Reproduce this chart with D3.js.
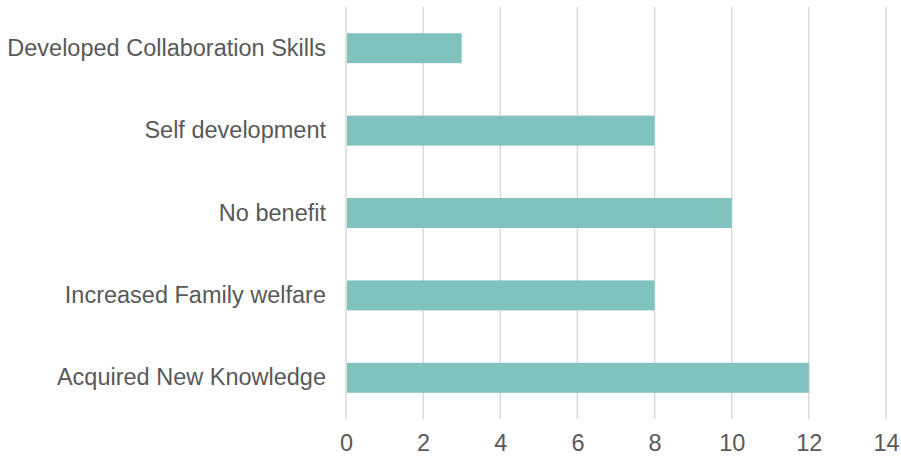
<!DOCTYPE html>
<html>
<head>
<meta charset="utf-8">
<script src="https://cdn.jsdelivr.net/npm/d3@7"></script>
<style>
  body { margin: 0; background: #fff; }
  text { font-family: "Liberation Sans", Arial, sans-serif; fill: #595959; }
</style>
</head>
<body>
<svg id="chart" width="901" height="462" viewBox="0 0 901 462"></svg>
<script>
// benefits reported
const categories = ["Developed Collaboration Skills", "Self development", "No benefit", "Increased Family welfare", "Acquired New Knowledge"]
const counts = [3, 8, 10, 8, 12]
const xTicks = [0, 2, 4, 6, 8, 10, 12, 14]

const svg = d3.select("#chart")
const margin = {top: 7, right: 15, bottom: 43, left: 346}
const width = 901
const height = 462

const x = d3.scaleLinear()
    .domain([0, 14])
    .range([margin.left, width - margin.right])

const y = d3.scaleBand()
    .domain(categories)
    .range([margin.top, height - margin.bottom])
    .paddingInner(0.636)
    .paddingOuter(0.318)

// vertical gridlines
svg.append("g")
    .selectAll("line")
    .data(xTicks)
    .enter()
    .append("line")
    .attr("x1", d => x(d))
    .attr("x2", d => x(d))
    .attr("y1", margin.top)
    .attr("y2", height - margin.bottom)
    .attr("stroke", "#d9d9d9")
    .attr("stroke-width", 1.5)

// bars
svg.append("g")
    .selectAll("rect")
    .data(categories)
    .enter()
    .append("rect")
    .attr("x", x(0) + 1)
    .attr("y", d => y(d))
    .attr("width", (d, i) => x(counts[i]) - x(0) - 1)
    .attr("height", y.bandwidth())
    .attr("fill", "#80c2be")

// x axis labels
const xAxis = svg.append("g")
    .attr("transform", `translate(0,${height - margin.bottom})`)
    .call(d3.axisBottom(x).tickValues(xTicks).tickSize(0).tickPadding(15))
xAxis.select(".domain").remove()
xAxis.selectAll("text")
    .style("font-size", "23.5px")
    .attr("fill", "#595959")

// category labels
const yAxis = svg.append("g")
    .attr("transform", `translate(${margin.left - 20},0)`)
    .call(d3.axisLeft(y).tickSize(0).tickPadding(0))
yAxis.select(".domain").remove()
yAxis.selectAll("text")
    .style("font-size", "23.5px")
    .attr("fill", "#595959")
</script>
</body>
</html>
